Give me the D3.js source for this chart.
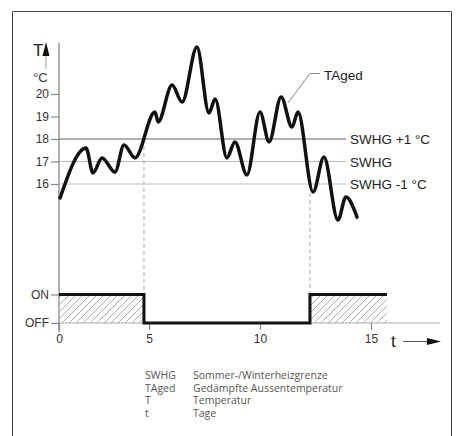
<!DOCTYPE html>
<html>
<head>
<meta charset="utf-8">
<script src="https://cdn.jsdelivr.net/npm/d3@7"></script>
<style>
  body { margin: 0; background: #fff; }
  svg { display: block; }
  .tick text { font-family: "Liberation Sans", Arial, sans-serif; font-size: 12px; fill: #333; }
  .tick line { stroke: #888; stroke-width: 1.2; }
</style>
</head>
<body>
<script>
const width = 456;
const height = 436;

// TAged curve (days, °C)
const days  = [0.06, 1.5, 1.89, 2.39, 3.11, 3.61, 4.22, 5.27, 5.41, 6.04, 6.49, 7.16, 7.7, 7.98, 8.51, 8.87, 9.41, 10.0, 10.41, 10.95, 11.44, 11.71, 12.39, 12.88, 13.51, 13.87, 14.37];
const tAged = [15.38, 17.6, 16.49, 17.16, 16.53, 17.73, 17.16, 19.2, 18.76, 20.4, 19.64, 22.09, 19.16, 19.78, 17.16, 17.87, 16.4, 19.2, 17.87, 19.87, 18.53, 19.2, 15.64, 17.2, 14.4, 15.42, 14.53];

// switching of the heating (1 = ON, 0 = OFF)
const switchDays  = [0, 4.72, 12.25, 15.72];
const switchState = [1, 0, 1, 1];
const switchTemps = [18, 15.6];   // where the dashed lines leave the curve

const limitTemps  = [18, 17, 16];
const limitLabels = ["SWHG +1 °C", "SWHG", "SWHG -1 °C"];

const yTicks = [16, 17, 18, 19, 20];
const xTicks = [0, 5, 10, 15];

const legendKeys  = ["SWHG", "TAged", "T", "t"];
const legendTexts = ["Sommer-/Winterheizgrenze", "Gedämpfte Aussentemperatur", "Temperatur", "Tage"];

const svg = d3.select('body').append('svg')
    .attr('width', width)
    .attr('height', height);

// frame (open at the bottom)
svg.append('path')
    .attr('d', 'M12.5,436 V11.5 H451.5 V436')
    .attr('fill', 'none')
    .attr('stroke', '#444')
    .attr('stroke-width', 1);

const axisX = 59;
const xScale = d3.scaleLinear()
    .domain([0, 5, 15])
    .range([axisX, 149, 371]);
const yScale = d3.scaleLinear()
    .domain([16, 20])
    .range([184, 94]);
const sScale = d3.scaleLinear()
    .domain([0, 1])
    .range([323, 294.5]);

// hatch pattern
const defs = svg.append('defs');
const pat = defs.append('pattern')
    .attr('id', 'hatch')
    .attr('patternUnits', 'userSpaceOnUse')
    .attr('width', 7)
    .attr('height', 7);
pat.append('path')
    .attr('d', 'M-1,1 L1,-1 M0,7 L7,0 M6,8 L8,6')
    .attr('stroke', '#999')
    .attr('stroke-width', 0.8);

// threshold lines
svg.selectAll('.limit')
    .data(limitTemps)
    .enter().append('line')
    .attr('class', 'limit')
    .attr('x1', axisX)
    .attr('x2', 346)
    .attr('y1', d => yScale(d))
    .attr('y2', d => yScale(d))
    .attr('stroke', (d, i) => i === 0 ? '#999' : '#bbb')
    .attr('stroke-width', (d, i) => i === 0 ? 1.6 : 1.2);

svg.selectAll('.limit-label')
    .data(limitLabels)
    .enter().append('text')
    .attr('x', 350)
    .attr('y', (d, i) => yScale(limitTemps[i]) + 5)
    .style('font-family', '"Liberation Sans", Arial, sans-serif')
    .style('font-size', '13.5px')
    .style('fill', '#222')
    .text(d => d);

// y axis
svg.append('line')
    .attr('x1', axisX).attr('x2', axisX)
    .attr('y1', 43).attr('y2', 332)
    .attr('stroke', '#888')
    .attr('stroke-width', 1.3);

svg.append('g')
    .attr('transform', 'translate(' + axisX + ',0)')
    .call(d3.axisLeft(yScale).tickValues(yTicks).tickSize(8).tickPadding(2).tickFormat(d3.format('d')))
    .call(g => g.select('.domain').remove());

// T arrow and unit
svg.append('text')
    .attr('x', 33).attr('y', 56)
    .style('font-family', '"Liberation Sans", Arial, sans-serif')
    .style('font-size', '17px')
    .style('fill', '#222')
    .text('T');
svg.append('line')
    .attr('x1', 46).attr('x2', 46)
    .attr('y1', 54).attr('y2', 69)
    .attr('stroke', '#999')
    .attr('stroke-width', 1);
svg.append('path')
    .attr('d', 'M46,42 L49.5,56 L42.5,56 Z')
    .attr('fill', '#111');
svg.append('text')
    .attr('x', 33).attr('y', 82)
    .style('font-family', '"Liberation Sans", Arial, sans-serif')
    .style('font-size', '13px')
    .style('fill', '#333')
    .text('°C');

// dashed switching lines
svg.selectAll('.switch')
    .data(switchTemps)
    .enter().append('line')
    .attr('x1', (d, i) => xScale(switchDays[i + 1]))
    .attr('x2', (d, i) => xScale(switchDays[i + 1]))
    .attr('y1', d => yScale(d))
    .attr('y2', sScale(1))
    .attr('stroke', '#aaa')
    .attr('stroke-width', 1)
    .attr('stroke-dasharray', '4,3');

// hatched ON areas
const onAreas = [];
for (let i = 0; i < switchDays.length - 1; i++)
    if (switchState[i] === 1) onAreas.push([switchDays[i], switchDays[i + 1]]);

svg.selectAll('.on-area')
    .data(onAreas)
    .enter().append('rect')
    .attr('x', d => xScale(d[0]))
    .attr('width', d => xScale(d[1]) - xScale(d[0]))
    .attr('y', sScale(1))
    .attr('height', sScale(0) - sScale(1))
    .attr('fill', 'url(#hatch)');

// time axis baseline
svg.append('line')
    .attr('x1', axisX).attr('x2', 440)
    .attr('y1', sScale(0)).attr('y2', sScale(0))
    .attr('stroke', '#aaa')
    .attr('stroke-width', 1.2);

svg.append('g')
    .attr('transform', 'translate(0,' + sScale(0) + ')')
    .call(d3.axisBottom(xScale).tickValues(xTicks).tickSize(7).tickPadding(4))
    .call(g => g.select('.domain').remove())
    .call(g => g.selectAll('.tick line').attr('stroke', '#aaa'));

svg.append('g')
    .attr('transform', 'translate(' + axisX + ',0)')
    .call(d3.axisLeft(sScale).tickValues([0, 1]).tickSize(8).tickPadding(2)
        .tickFormat(d => d ? 'ON' : 'OFF'))
    .call(g => g.select('.domain').remove());

// t arrow
svg.append('text')
    .attr('x', 391).attr('y', 347)
    .style('font-family', '"Liberation Sans", Arial, sans-serif')
    .style('font-size', '17px')
    .style('fill', '#222')
    .text('t');
svg.append('line')
    .attr('x1', 403).attr('x2', 430)
    .attr('y1', 341.5).attr('y2', 341.5)
    .attr('stroke', '#555')
    .attr('stroke-width', 1);
svg.append('path')
    .attr('d', 'M441,341.5 L427,338 L427,345 Z')
    .attr('fill', '#111');

// switching step line
const step = d3.line()
    .x((d, i) => xScale(switchDays[i]))
    .y(d => sScale(d))
    .curve(d3.curveStepAfter);

svg.append('path')
    .attr('d', step(switchState))
    .attr('fill', 'none')
    .attr('stroke', '#111')
    .attr('stroke-width', 3);

// TAged curve
const line = d3.line()
    .x((d, i) => xScale(days[i]))
    .y(d => yScale(d))
    .curve(d3.curveMonotoneX);

svg.append('path')
    .attr('d', line(tAged))
    .attr('fill', 'none')
    .attr('stroke', '#111')
    .attr('stroke-width', 3.5)
    .attr('stroke-linecap', 'round')
    .attr('stroke-linejoin', 'round');

// TAged leader and label
svg.append('path')
    .attr('d', 'M288,103 L310,73.5 L320,73.5')
    .attr('fill', 'none')
    .attr('stroke', '#888')
    .attr('stroke-width', 1);
svg.append('text')
    .attr('x', 324).attr('y', 80)
    .style('font-family', '"Liberation Sans", Arial, sans-serif')
    .style('font-size', '13.5px')
    .style('fill', '#222')
    .text('TAged');

// legend
const legend = svg.append('g')
    .style('font-family', '"Open Sans", "Noto Sans", sans-serif')
    .style('font-size', '10.5px')
    .style('fill', '#555');

legend.selectAll('.key')
    .data(legendKeys)
    .enter().append('text')
    .attr('x', 145)
    .attr('y', (d, i) => 379 + i * 12.5)
    .text(d => d);

legend.selectAll('.desc')
    .data(legendTexts)
    .enter().append('text')
    .attr('x', 193)
    .attr('y', (d, i) => 379 + i * 12.5)
    .text(d => d);
</script>
</body>
</html>
